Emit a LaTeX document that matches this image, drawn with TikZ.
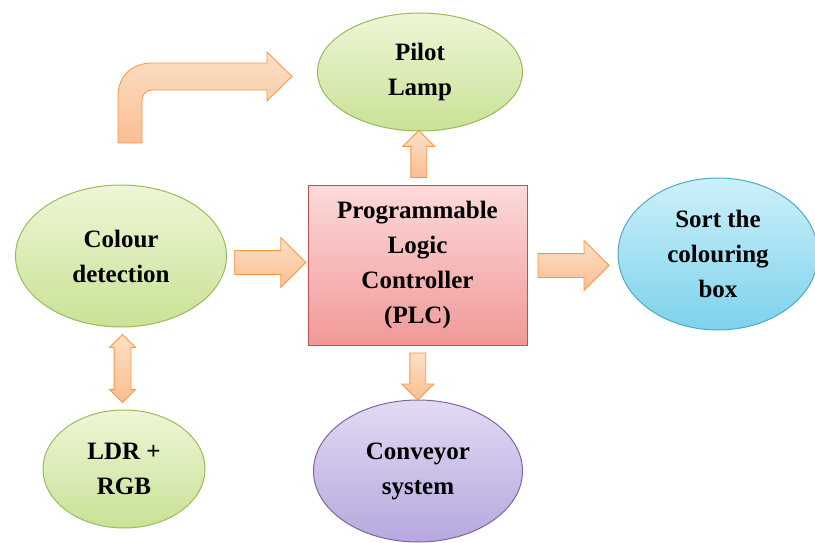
\documentclass[tikz,border=0pt]{standalone}
\usepackage{fontspec}
\setmainfont{Liberation Serif}
\usetikzlibrary{shapes.geometric,shapes.arrows,calc}

\definecolor{greenedge}{RGB}{155,187,89}
\definecolor{greentop}{RGB}{238,246,214}
\definecolor{greenbot}{RGB}{200,226,150}
\definecolor{blueedge}{RGB}{75,172,198}
\definecolor{bluetop}{RGB}{205,240,250}
\definecolor{bluebot}{RGB}{125,210,236}
\definecolor{purpleedge}{RGB}{128,100,162}
\definecolor{purpletop}{RGB}{225,218,243}
\definecolor{purplebot}{RGB}{182,168,222}
\definecolor{pinkedge}{RGB}{192,80,77}
\definecolor{pinktop}{RGB}{252,218,218}
\definecolor{pinkbot}{RGB}{241,152,152}
\definecolor{orangeedge}{RGB}{247,150,70}
\definecolor{orangetop}{RGB}{252,224,198}
\definecolor{orangebot}{RGB}{250,190,145}

\tikzset{
  label text/.style={font=\fontsize{25}{35}\selectfont\bfseries, align=center, text=black},
  oval/.style={ellipse, inner sep=0pt, line width=1pt, label text},
  greenoval/.style={oval, draw=greenedge, top color=greentop, bottom color=greenbot},
  blueoval/.style={oval, draw=blueedge, top color=bluetop, bottom color=bluebot},
  purpleoval/.style={oval, draw=purpleedge, top color=purpletop, bottom color=purplebot},
  plcbox/.style={rectangle, inner sep=0pt, line width=1pt, draw=pinkedge,
    top color=pinktop, bottom color=pinkbot, label text},
  blockarrow/.style={single arrow, line width=0.8pt,
    draw=orangeedge, top color=orangetop, bottom color=orangebot},
  linkarrow/.style={double arrow, line width=0.8pt,
    draw=orangeedge, top color=orangetop, bottom color=orangebot}
}

\begin{document}
\begin{tikzpicture}[x=1pt,y=-1pt]
  \useasboundingbox (0,0) rectangle (815,543);
  \clip (0,0) rectangle (815,543);

  % blocks
  \node[plcbox, minimum width=219pt, minimum height=160pt] (plc) at (417.5,265)
    {Programmable\\Logic\\Controller\\(PLC)};
  \node[greenoval, minimum width=205pt, minimum height=118pt] (pilot) at (420,72) {Pilot\\Lamp};
  \node[greenoval, minimum width=211pt, minimum height=142pt] (cd) at (121,256) {Colour\\detection};
  \node[blueoval, minimum width=200pt, minimum height=152pt] (sortbox) at (718,254)
    {Sort the\\colouring\\box};
  \node[greenoval, minimum width=162pt, minimum height=118pt] (ldr) at (124,469) {LDR +\\RGB};
  \node[purpleoval, minimum width=209pt, minimum height=142pt] (conveyor) at (418,471)
    {Conveyor\\system};

  % block arrows
  \node[blockarrow, inner xsep=0pt, inner ysep=11.5pt, single arrow head extend=13pt,
    minimum height=71pt] (ain) at ($(cd.east)!0.5!(plc.west)+(-3,2)$) {};
  \node[blockarrow, inner xsep=0pt, inner ysep=11.5pt, single arrow head extend=13pt,
    minimum height=71pt] (aout) at ($(plc.east)!0.5!(sortbox.west)+(-5,6)$) {};
  \node[blockarrow, inner ysep=0pt, inner xsep=7.5pt, single arrow head extend=8pt,
    minimum height=47pt, shape border rotate=90] (aup) at ($(plc.north)!0.5!(pilot.south)$) {};
  \node[blockarrow, inner ysep=0pt, inner xsep=7.5pt, single arrow head extend=8pt,
    minimum height=47pt, shape border rotate=270] (adown) at ($(plc.south)!0.5!(conveyor.north)$) {};
  \node[linkarrow, inner ysep=0pt, inner xsep=8pt, double arrow head extend=4.5pt,
    minimum height=68pt, shape border rotate=90] (alink) at ($(cd.south)!0.5!(ldr.north)$) {};

  % bent arrow
  \draw[line width=0.8pt, draw=orangeedge, top color=orangetop, bottom color=orangebot]
    (118,143) -- (118,96) .. controls (118,76) and (132,63) .. (152,63)
    -- (267,63) -- (267,52) -- (292,76.5) -- (267,101) -- (267,90)
    -- (153,90) .. controls (146,90) and (142,94) .. (142,101) -- (142,143) -- cycle;
\end{tikzpicture}
\end{document}
